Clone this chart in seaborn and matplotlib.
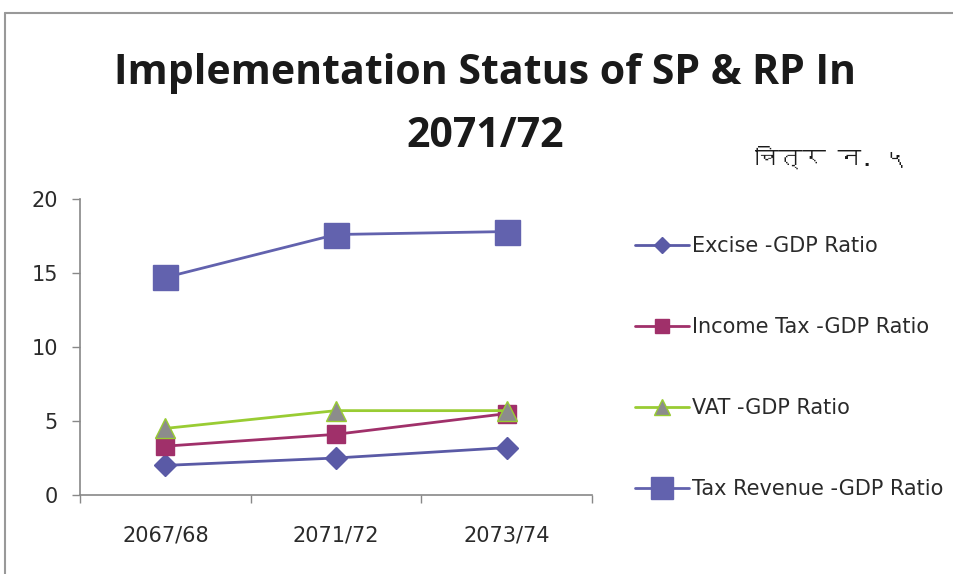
import matplotlib
matplotlib.use('Agg')
import matplotlib.pyplot as plt
import seaborn as sns
import pandas as pd
from matplotlib.lines import Line2D
from matplotlib import font_manager
from matplotlib.ft2font import FT2Font

# data
years = ['2067/68', '2071/72', '2073/74']
excise = [2.0, 2.5, 3.2]
income_tax = [3.3, 4.1, 5.5]
vat = [4.5, 5.7, 5.7]
tax_revenue = [14.7, 17.6, 17.8]

series_names = ['Excise -GDP Ratio', 'Income Tax -GDP Ratio', 'VAT -GDP Ratio', 'Tax Revenue -GDP Ratio']
series_values = [excise, income_tax, vat, tax_revenue]

fig_label = 'चित्र न. ५'

sns.set_theme(style='white')
plt.rcParams['font.family'] = ['Open Sans', 'DejaVu Sans']


def find_family(ch):
    # look for any installed font that has a glyph for ch
    for f in font_manager.fontManager.ttflist:
        try:
            if ord(ch) in FT2Font(f.fname).get_charmap():
                return f.name
        except Exception:
            continue
    return None


deva = find_family('च')
label_family = ([deva] if deva else []) + ['DejaVu Sans']

# marker size on the plot / in the legend
styles = {
    'Excise -GDP Ratio': dict(color='#5a5aa6', marker='D', ms=11, lms=8, mfc='#5a5aa6', mec='#5a5aa6'),
    'Income Tax -GDP Ratio': dict(color='#a0306a', marker='s', ms=13, lms=10, mfc='#a0306a', mec='#a0306a'),
    'VAT -GDP Ratio': dict(color='#99cc33', marker='^', ms=15, lms=11, mfc='#8c8c8c', mec='#99cc33'),
    'Tax Revenue -GDP Ratio': dict(color='#6262ae', marker='s', ms=18, lms=16, mfc='#6262ae', mec='#6262ae'),
}

rows = []
for name, vals in zip(series_names, series_values):
    for i, v in enumerate(vals):
        rows.append({'series': name, 'x': i, 'value': v})
df = pd.DataFrame(rows)

fig = plt.figure(figsize=(9.54, 5.74), dpi=100)
ax = fig.add_axes([80 / 954, 1 - 495 / 574, (592 - 80) / 954, (495 - 199) / 574])

handles = []
for name in series_names:
    st = styles[name]
    sub = df[df['series'] == name]
    sns.lineplot(data=sub, x='x', y='value', ax=ax, color=st['color'], linewidth=2,
                 marker=st['marker'], markersize=st['ms'],
                 markerfacecolor=st['mfc'], markeredgecolor=st['mec'], markeredgewidth=1,
                 legend=False)
    handles.append(Line2D([], [], color=st['color'], linewidth=2, marker=st['marker'],
                          markersize=st['lms'], markerfacecolor=st['mfc'],
                          markeredgecolor=st['mec']))

ax.set_xlim(-0.5, 2.5)
ax.set_ylim(0, 20)
ax.set_yticks([0, 5, 10, 15, 20])
ax.set_xticks([-0.5, 0.5, 1.5, 2.5])
ax.set_xticklabels([])
ax.set_xticks(range(len(years)), minor=True)
ax.set_xticklabels(years, minor=True)
ax.tick_params(axis='x', which='major', length=6, width=1, color='#888888', direction='out', bottom=True)
ax.tick_params(axis='x', which='minor', length=0, pad=22, labelsize=15)
ax.tick_params(axis='y', length=6, width=1, color='#888888', direction='out', left=True, labelsize=15, pad=10)
for lab in ax.get_xticklabels(minor=True) + ax.get_yticklabels():
    lab.set_family('DejaVu Sans')
    lab.set_color('#2a2a2a')
ax.set_xlabel('')
ax.set_ylabel('')
for s in ['top', 'right']:
    ax.spines[s].set_visible(False)
for s in ['left', 'bottom']:
    ax.spines[s].set_color('#888888')
    ax.spines[s].set_linewidth(1.2)

leg = fig.legend(handles, series_names, loc='upper left', bbox_to_anchor=(627 / 954, 1 - 228 / 574),
                 frameon=False, prop={'family': 'DejaVu Sans', 'size': 15}, labelspacing=2.92,
                 handlelength=2.6, handletextpad=0.12, borderaxespad=0)
for t in leg.get_texts():
    t.set_color('#2a2a2a')

fig.text(485 / 954, 1 - 73 / 574, 'Implementation Status of SP & RP In', ha='center', va='center',
         fontsize=29.5, fontweight='bold', color='#1a1a1a')
fig.text(485 / 954, 1 - 136 / 574, '2071/72', ha='center', va='center',
         fontsize=29.5, fontweight='bold', color='#1a1a1a')
fig.text(832 / 954, 1 - 157 / 574, fig_label, ha='center', va='center', fontsize=17,
         fontweight='bold', color='#1a1a1a', family=label_family)

# outer frame (top and left edges)
fig.add_artist(Line2D([5 / 954, 1], [1 - 13 / 574, 1 - 13 / 574], color='#999999', linewidth=1.5))
fig.add_artist(Line2D([5 / 954, 5 / 954], [0, 1 - 13 / 574], color='#999999', linewidth=1.5))

fig.savefig('out.png', dpi=100)
